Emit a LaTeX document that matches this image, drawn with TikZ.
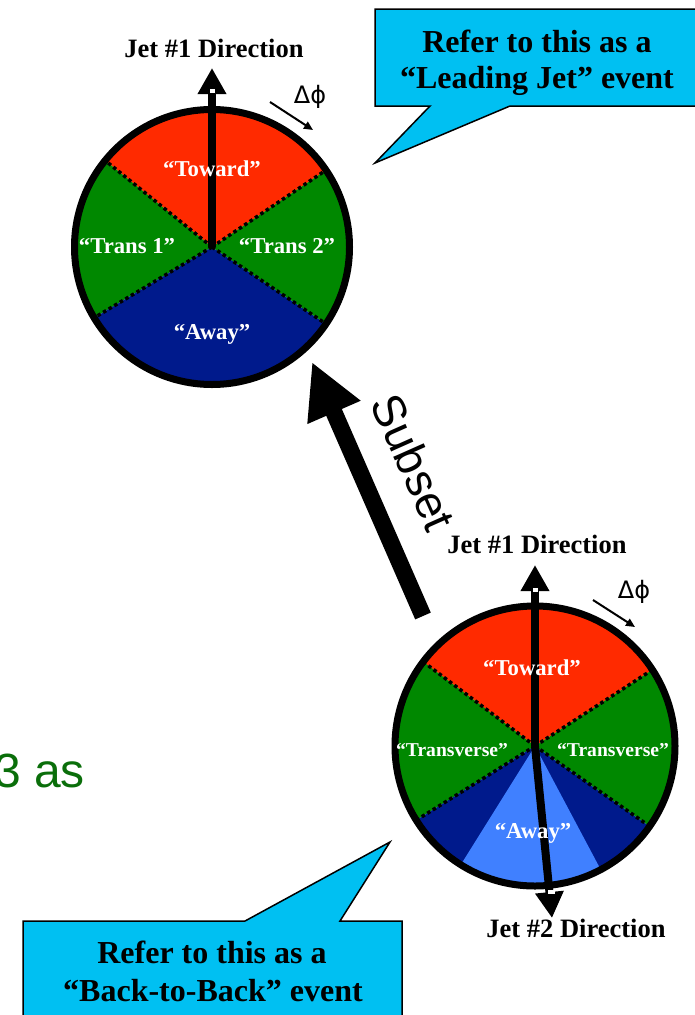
\documentclass[tikz,border=0pt]{standalone}
\usepackage{fontspec}
\setmainfont{Liberation Serif}
\newfontfamily\arialf{Liberation Sans}
\newfontfamily\dejaf{DejaVu Sans}
\usetikzlibrary{arrows.meta,calc}
\definecolor{tred}{RGB}{255,42,0}
\definecolor{tgreen}{RGB}{0,136,0}
\definecolor{tnavy}{RGB}{0,26,140}
\definecolor{tlight}{RGB}{64,128,255}
\definecolor{tcyan}{RGB}{0,192,242}
\definecolor{tgtext}{RGB}{10,110,10}
% sector: #1 colour, #2 centre, #3 start angle, #4 mid angle, #5 end angle (standard angles, y-down handled by minus)
\newcommand{\mysector}[5]{%
  \fill[#1] (#2) -- ($(#2)+(-#3:320)$) -- ($(#2)+(-#4:320)$) -- ($(#2)+(-#5:320)$) -- cycle;}
\begin{document}
\begin{tikzpicture}[x=1pt,y=-1pt,
  rim/.style={line width=7pt},
  dotline/.style={line width=3.5pt, dash pattern=on 3.5pt off 3pt},
  jetarrow/.style={line width=8pt, -{Triangle[length=26pt,width=27pt]}},
  subsetarrow/.style={line width=17pt, -{Triangle[length=55pt,width=54pt]}},
  dphiarr/.style={line width=2pt, -{Triangle[length=9pt,width=8pt]}},
  lab/.style={text=white, font=\bfseries\fontsize{22.7}{24}\selectfont, inner sep=0pt, anchor=base},
  labsmall/.style={text=white, font=\bfseries\fontsize{19.6}{21}\selectfont, inner sep=0pt, anchor=base},
  jettxt/.style={font=\bfseries\fontsize{26.5}{28}\selectfont, inner sep=0pt, anchor=base},
  callout/.style={fill=tcyan, draw=black, line width=1.5pt, line join=miter},
  calltxt/.style={font=\bfseries\fontsize{32}{36}\selectfont, inner sep=0pt, anchor=base},
  dphitxt/.style={font=\dejaf\fontsize{24}{26}\selectfont, inner sep=0pt, anchor=base},
  junction/.style={fill=white},
]
\useasboundingbox (0,0) rectangle (695,1015);

% background slide text
\node[font=\arialf\fontsize{48}{50}\selectfont, text=tgtext, inner sep=0pt, anchor=base west] (bg) at (-6,787) {3 as};

% callouts
\draw[callout] (375,9) -- (700,9) -- (700,106) -- (510,106) -- (375,163) -- (430,106) -- (375,106) -- cycle;
\node[calltxt] (ca1) at (537,52) {Refer to this as a};
\node[calltxt] (ca2) at (537,88) {“Leading Jet” event};

\draw[callout] (23,921) -- (245,921) -- (390,842) -- (340,921) -- (402,921) -- (402,1025) -- (23,1025) -- cycle;
\node[calltxt] (cb1) at (212,963) {Refer to this as a};
\node[calltxt] (cb2) at (213,1001) {“Back-to-Back” event};

% ---------- top circle ----------
\coordinate (c1) at (212,247);
\begin{scope}
  \clip (c1) circle[radius=137.5];
  \mysector{tred}{c1}{34}{87.5}{141}
  \mysector{tgreen}{c1}{141}{176}{211}
  \mysector{tnavy}{c1}{211}{268.5}{326}
  \mysector{tgreen}{c1}{326}{360}{394}
\end{scope}
\draw[dotline] (c1) -- ++(-34:137.5);
\draw[dotline] (c1) -- ++(-141:137.5);
\draw[dotline] (c1) -- ++(-211:137.5);
\draw[dotline] (c1) -- ++(-326:137.5);
\draw[rim] (c1) circle[radius=137.5];
\coordinate (t1) at (212,68);
\draw[jetarrow] (c1) -- (t1);
\fill[junction] (209.5,89) rectangle (215,93);
\node[lab] (tow1) at (212,176) {“Toward”};
\node[lab] (tr1) at (127,253) {“Trans 1”};
\node[lab] (tr2) at (287,253) {“Trans 2”};
\node[lab] (aw1) at (212,339) {“Away”};
\node[jettxt] (j1a) at (214,57) {Jet \#1 Direction};
\node[dphitxt] (dp1) at (310,103) {Δϕ};
\coordinate (d1s) at (270,102);
\coordinate (d1e) at (313,130);
\draw[dphiarr] (d1s) -- (d1e);

% ---------- bottom circle ----------
\coordinate (c2) at (535,746);
\begin{scope}
  \clip (c2) circle[radius=140];
  \mysector{tred}{c2}{33}{88}{143}
  \mysector{tgreen}{c2}{143}{177.5}{212}
  \mysector{tnavy}{c2}{212}{268.5}{325}
  \mysector{tlight}{c2}{238}{268}{298}
  \mysector{tgreen}{c2}{325}{359}{393}
\end{scope}
\draw[dotline] (c2) -- ++(-33:140);
\draw[dotline] (c2) -- ++(-143:140);
\draw[dotline] (c2) -- ++(-212:140);
\draw[dotline] (c2) -- ++(-325:140);
\draw[rim] (c2) circle[radius=140];
\coordinate (t2) at (535,565);
\coordinate (t3) at (552,918);
\draw[jetarrow] (c2) -- (t2);
\draw[jetarrow] (c2) -- (t3);
\fill[junction] (532.5,588) rectangle (538,592);
\fill[junction] (548,890) rectangle (555,894);
\node[lab] (tow2) at (532,675) {“Toward”};
\node[labsmall] (tv1) at (452,756) {“Transverse”};
\node[labsmall] (tv2) at (613,756) {“Transverse”};
\node[lab] (aw2) at (533,838) {“Away”};
\node[jettxt] (j1b) at (537,553) {Jet \#1 Direction};
\node[jettxt] (j2b) at (576,937) {Jet \#2 Direction};
\node[dphitxt] (dp2) at (634,598) {Δϕ};
\coordinate (d2s) at (593,600);
\coordinate (d2e) at (635,627);
\draw[dphiarr] (d2s) -- (d2e);

% ---------- subset arrow ----------
\coordinate (sb) at (423,616);
\coordinate (st) at (312,362);
\draw[subsetarrow] (sb) -- (st);
\node[font=\arialf\fontsize{46}{48}\selectfont, inner sep=0pt, rotate=-66] (subset) at (414,462) {Subset};
\end{tikzpicture}
\end{document}
